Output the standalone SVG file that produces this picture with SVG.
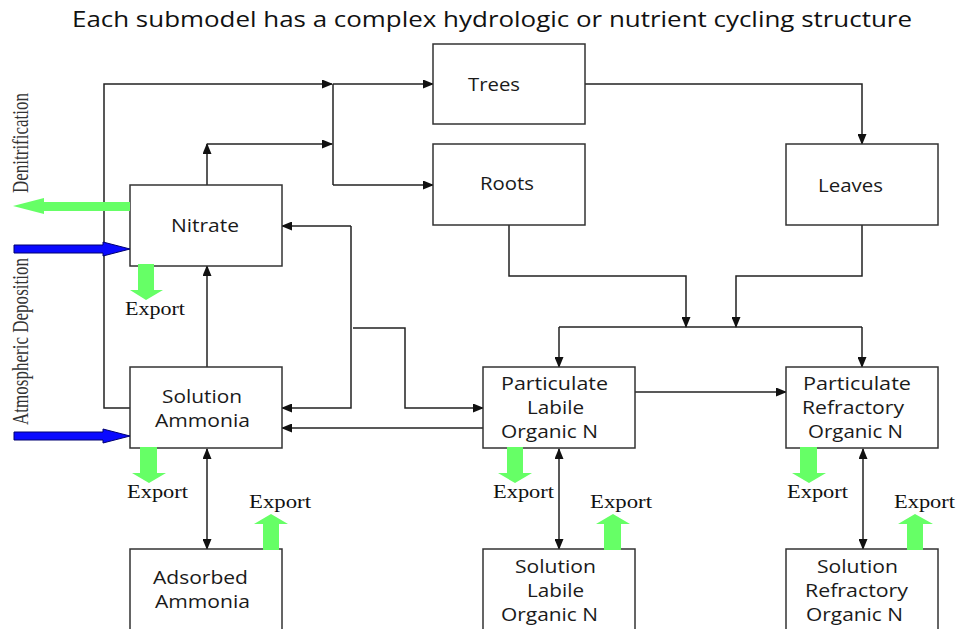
<svg xmlns="http://www.w3.org/2000/svg" width="958" height="629" viewBox="0 0 958 629">
<style>
.box{fill:#fff;stroke:#333;stroke-width:1.5}
.lbl{font-family:"Open Sans","Noto Sans",sans-serif;font-size:17.5px;fill:#1a1a1a}
.title{font-family:"Open Sans","Noto Sans",sans-serif;font-size:21px;fill:#111}
.ser{font-family:"Liberation Serif","Times New Roman",serif;font-size:18px;fill:#111}
.rot{font-family:"Liberation Serif","Times New Roman",serif;font-size:17px;fill:#333}
.c{fill:none;stroke:#222;stroke-width:1.5}
.g{fill:#66ff66}
.b{fill:#0a0aff;stroke:#000070;stroke-width:1}
</style>
<defs>
<marker id="ah" markerUnits="userSpaceOnUse" markerWidth="11" markerHeight="9" refX="10" refY="4.5" orient="auto-start-reverse" viewBox="0 0 11 9">
<path d="M0,0 L11,4.5 L0,9 z" fill="#111"/>
</marker>
</defs>

<text class="title" x="72" y="27" textLength="840" lengthAdjust="spacingAndGlyphs">Each submodel has a complex hydrologic or nutrient cycling structure</text>

<g id="connectors">
<path class="c" d="M130,408 H104 V84 H332" marker-end="url(#ah)"/>
<path class="c" d="M333,84 V185"/>
<path class="c" d="M333,84 H433" marker-end="url(#ah)"/>
<path class="c" d="M333,185 H433" marker-end="url(#ah)"/>
<path class="c" d="M207,185 V144" marker-end="url(#ah)"/>
<path class="c" d="M207,144 H332" marker-end="url(#ah)"/>
<path class="c" d="M207,367 V266" marker-end="url(#ah)"/>
<path class="c" d="M585,84 H862 V144" marker-end="url(#ah)"/>
<path class="c" d="M351,226 H282" marker-end="url(#ah)"/>
<path class="c" d="M351,226 V408 H282" marker-end="url(#ah)"/>
<path class="c" d="M353,328 H405 V408 H483" marker-end="url(#ah)"/>
<path class="c" d="M483,428 H282" marker-end="url(#ah)"/>
<path class="c" d="M509,225 V276 H686 V327" marker-end="url(#ah)"/>
<path class="c" d="M862,225 V276 H736 V327" marker-end="url(#ah)"/>
<path class="c" d="M559,327 H862"/>
<path class="c" d="M559,327 V367" marker-end="url(#ah)"/>
<path class="c" d="M862,327 V367" marker-end="url(#ah)"/>
<path class="c" d="M635,392 H786" marker-end="url(#ah)"/>
<path class="c" d="M207,449 V549" marker-start="url(#ah)" marker-end="url(#ah)"/>
<path class="c" d="M559,449 V549" marker-start="url(#ah)" marker-end="url(#ah)"/>
<path class="c" d="M863,449 V549" marker-start="url(#ah)" marker-end="url(#ah)"/>
</g>

<g id="trees"><rect class="box" x="433" y="44" width="152" height="80"/><text class="lbl" x="468" y="91" textLength="52" lengthAdjust="spacingAndGlyphs">Trees</text></g>
<g id="roots"><rect class="box" x="433" y="144" width="152" height="81"/><text class="lbl" x="480" y="190" textLength="54" lengthAdjust="spacingAndGlyphs">Roots</text></g>
<g id="leaves"><rect class="box" x="786" y="144" width="152" height="81"/><text class="lbl" x="818" y="192" textLength="65" lengthAdjust="spacingAndGlyphs">Leaves</text></g>
<g id="nitrate"><rect class="box" x="130" y="185" width="152" height="81"/><text class="lbl" x="171" y="232" textLength="68" lengthAdjust="spacingAndGlyphs">Nitrate</text></g>
<g id="solution-ammonia"><rect class="box" x="130" y="367" width="152" height="81"/><text class="lbl" x="162" y="403" textLength="80" lengthAdjust="spacingAndGlyphs">Solution</text><text class="lbl" x="155" y="427" textLength="95" lengthAdjust="spacingAndGlyphs">Ammonia</text></g>
<g id="adsorbed-ammonia"><rect class="box" x="130" y="549" width="152" height="90"/><text class="lbl" x="153" y="584" textLength="95" lengthAdjust="spacingAndGlyphs">Adsorbed</text><text class="lbl" x="155" y="608" textLength="95" lengthAdjust="spacingAndGlyphs">Ammonia</text></g>
<g id="particulate-labile"><rect class="box" x="483" y="367" width="152" height="81"/><text class="lbl" x="501" y="390" textLength="107" lengthAdjust="spacingAndGlyphs">Particulate</text><text class="lbl" x="527" y="414" textLength="57" lengthAdjust="spacingAndGlyphs">Labile</text><text class="lbl" x="501" y="438" textLength="97" lengthAdjust="spacingAndGlyphs">Organic N</text></g>
<g id="particulate-refractory"><rect class="box" x="786" y="367" width="152" height="81"/><text class="lbl" x="803" y="390" textLength="108" lengthAdjust="spacingAndGlyphs">Particulate</text><text class="lbl" x="802" y="414" textLength="102" lengthAdjust="spacingAndGlyphs">Refractory</text><text class="lbl" x="808" y="438" textLength="95" lengthAdjust="spacingAndGlyphs">Organic N</text></g>
<g id="solution-labile"><rect class="box" x="483" y="549" width="152" height="90"/><text class="lbl" x="515" y="573" textLength="81" lengthAdjust="spacingAndGlyphs">Solution</text><text class="lbl" x="527" y="597" textLength="57" lengthAdjust="spacingAndGlyphs">Labile</text><text class="lbl" x="501" y="621" textLength="97" lengthAdjust="spacingAndGlyphs">Organic N</text></g>
<g id="solution-refractory"><rect class="box" x="786" y="549" width="152" height="90"/><text class="lbl" x="817" y="573" textLength="81" lengthAdjust="spacingAndGlyphs">Solution</text><text class="lbl" x="805" y="597" textLength="103" lengthAdjust="spacingAndGlyphs">Refractory</text><text class="lbl" x="806" y="621" textLength="97" lengthAdjust="spacingAndGlyphs">Organic N</text></g>

<g id="denitrification">
<path class="g" d="M130,202 H44 V198 L13,206 L44,214 V211 H130 z"/>
<text class="rot" transform="translate(28,193) scale(1.3,1) rotate(-90)" textLength="100" lengthAdjust="spacingAndGlyphs">Denitrification</text>
</g>
<g id="atmospheric-deposition">
<path class="b" d="M14,245 H103 V242 L130,249 L103,256 V253 H14 z"/>
<path class="b" d="M14,432 H103 V429 L130,436 L103,443 V440 H14 z"/>
<text class="rot" transform="translate(28,425) scale(1.3,1) rotate(-90)" textLength="167" lengthAdjust="spacingAndGlyphs">Atmospheric Deposition</text>
</g>

<g id="exports">
<path class="g" d="M138,264 H154 V290 H163 L146,300 L130,290 H138 z"/>
<text class="ser" x="125" y="315" textLength="60" lengthAdjust="spacingAndGlyphs">Export</text>
<path class="g" d="M140,447 H157 V473 H166 L149,483 L132,473 H140 z"/>
<text class="ser" x="127" y="498" textLength="61" lengthAdjust="spacingAndGlyphs">Export</text>
<path class="g" d="M263,550 H279 V524 H288 L271,514 L254,524 H263 z"/>
<text class="ser" x="249" y="508" textLength="62" lengthAdjust="spacingAndGlyphs">Export</text>
<path class="g" d="M507,447 H523 V473 H532 L515,483 L498,473 H507 z"/>
<text class="ser" x="493" y="498" textLength="61" lengthAdjust="spacingAndGlyphs">Export</text>
<path class="g" d="M604,550 H621 V524 H630 L613,514 L596,524 H604 z"/>
<text class="ser" x="590" y="508" textLength="62" lengthAdjust="spacingAndGlyphs">Export</text>
<path class="g" d="M800,447 H817 V473 H826 L809,483 L792,473 H800 z"/>
<text class="ser" x="787" y="498" textLength="61" lengthAdjust="spacingAndGlyphs">Export</text>
<path class="g" d="M907,550 H923 V524 H933 L915,514 L898,524 H907 z"/>
<text class="ser" x="894" y="508" textLength="61" lengthAdjust="spacingAndGlyphs">Export</text>
</g>
</svg>
